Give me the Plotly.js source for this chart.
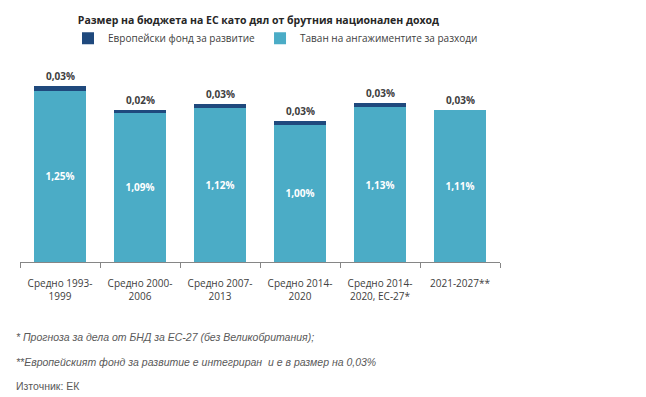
<!DOCTYPE html>
<html><head><meta charset="utf-8">
<script src="https://cdn.plot.ly/plotly-3.0.1.min.js"></script>
<style>html,body{margin:0;padding:0;background:#fff;}</style>
</head><body>
<div id="chart" style="width:646px;height:397px;"></div>
<script>
const categories = ["Средно 1993-<br>1999","Средно 2000-<br>2006","Средно 2007-<br>2013","Средно 2014-<br>2020","Средно 2014-<br>2020, ЕС-27*","2021-2027**"];
const ceilingValues = [1.25,1.09,1.12,1.00,1.13,1.11];
const fundValues = [0.03,0.02,0.03,0.03,0.03,0];
const ceilingLabels = ["1,25%","1,09%","1,12%","1,00%","1,13%","1,11%"];
const fundLabels = ["0,03%","0,02%","0,03%","0,03%","0,03%","0,03%"];
const seriesNames = ["Европейски фонд за развитие","Таван на ангажиментите за разходи"];
const titleText = "Размер на бюджета на ЕС като дял от брутния национален доход";
const footnotes = ["* Прогноза за дела от БНД за ЕС-27 (без Великобритания);","**Европейският фонд за развитие е интегриран  и е в размер на 0,03%"];
const sourceText = "Източник: ЕК";

const font = "Open Sans, Liberation Sans, Arial, sans-serif";
const traces = [
  {type:'bar', x:categories, y:ceilingValues, name:seriesNames[1], marker:{color:'#4BACC6'},
   text:ceilingLabels, textposition:'inside', insidetextanchor:'middle', texttemplate:'%{text}',
   textfont:{color:'#ffffff', size:10, family:font, weight:'bold'}, hoverinfo:'skip'},
  {type:'bar', x:categories, y:fundValues, name:seriesNames[0], marker:{color:'#1F497D'},
   textposition:'none', hoverinfo:'skip'}
];
const annotations = categories.map((c,i)=>({
  x:c, y:ceilingValues[i]+fundValues[i], xref:'x', yref:'y', text:'<b>'+fundLabels[i]+'</b>',
  showarrow:false, yanchor:'bottom', yshift:1, font:{size:10, color:'#404040', family:font}
}));
footnotes.forEach((t,i)=>annotations.push({xref:'paper', yref:'paper', x:-0.0125, y:(262-337-25*i)/192,
  xanchor:'left', yanchor:'middle', showarrow:false, text:'<i>'+t+'</i>', font:{size:10.5, color:'#595959', family:'Liberation Sans, Arial, sans-serif'}}));
annotations.push({xref:'paper', yref:'paper', x:-0.0125, y:(262-386)/192, xanchor:'left', yanchor:'middle',
  showarrow:false, text:sourceText, font:{size:10.5, color:'#595959', family:'Liberation Sans, Arial, sans-serif'}});

const layout = {
  width:646, height:397,
  margin:{l:20, r:146, t:70, b:135},
  paper_bgcolor:'#fff', plot_bgcolor:'#fff',
  barmode:'stack', bargap:0.34,
  title:{text:'<b>'+titleText+'</b>', x:0.4, xanchor:'center', y:0.95, yanchor:'middle', font:{size:10.5, color:'#262626', family:font}},
  showlegend:true,
  legend:{orientation:'h', x:0.1, xanchor:'left', y:1.165, yanchor:'middle', traceorder:'reversed',
    font:{size:10, color:'#404040', family:font}, itemwidth:30, bgcolor:'rgba(0,0,0,0)'},
  xaxis:{showline:true, linecolor:'#868686', linewidth:1, ticks:'outside', tickson:'boundaries', ticklen:5, tickcolor:'#868686',
    ticklabelstandoff:12, tickfont:{size:10, color:'#404040', family:font}, showgrid:false, fixedrange:true},
  yaxis:{range:[0,1.4], visible:false, showgrid:false, zeroline:false, fixedrange:true},
  annotations:annotations
};
Plotly.newPlot('chart', traces, layout, {displayModeBar:false, staticPlot:true});
</script>
</body></html>
